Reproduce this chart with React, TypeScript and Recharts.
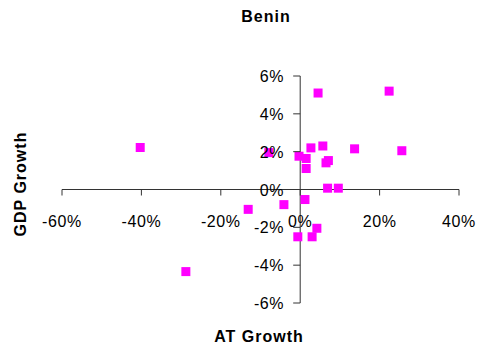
import React from "react";
import { ScatterChart, Scatter, XAxis, YAxis, ReferenceLine } from "recharts";

// values, in percent
const atGrowth = [
  4.5, 22.4, -7.9, 2.7, 5.7, 13.7, 25.6, -0.3, 1.5, 1.5, 6.5,
  7.1, 6.9, 9.6, 1.2, -4.1, -13.1, 4.2, -0.6, 3.0, -40.3, -28.8,
];
const gdpGrowth = [
  5.1, 5.2, 1.95, 2.2, 2.3, 2.15, 2.05, 1.76, 1.64, 1.11, 1.41,
  1.53, 0.07, 0.07, -0.53, -0.8, -1.05, -2.05, -2.5, -2.5, 2.22, -4.34,
];
const xTicks = [-60, -40, -20, 0, 20, 40];
const yTicks = [-6, -4, -2, 0, 2, 4, 6];
const xDomain: [number, number] = [-60, 40];
const yDomain: [number, number] = [-6, 6];

const W = 482;
const H = 352;
// plot area: left 62, right 459, top 76, bottom 303
const xAxisH = 30;
const yAxisW = 30;
const margin = { top: 76, right: 23, bottom: 49 - xAxisH, left: 62 - yAxisW };
const plotW = W - 62 - 23;
const plotH = H - 76 - 49;

// where the axes cross (0,0), excel style
const x0 = 62 + (plotW * (0 - xDomain[0])) / (xDomain[1] - xDomain[0]);
const y0 = 76 + (plotH * (yDomain[1] - 0)) / (yDomain[1] - yDomain[0]);

const font = "'Liberation Sans', Arial, sans-serif";
const axisColor = "#333";
const pointColor = "#FF00FF";

const data = atGrowth.map((x, i) => ({ x, y: gdpGrowth[i] }));

const XTick = ({ x, payload }: any) => (
  <g>
    <line x1={x} x2={x} y1={y0} y2={y0 + 6} stroke={axisColor} />
    <text
      x={x}
      y={y0 + 37}
      textAnchor="middle"
      fontFamily={font}
      fontSize={16}
      letterSpacing={0.6}
      fill="#000"
    >
      {payload.value}%
    </text>
  </g>
);

const YTick = ({ y, payload }: any) => (
  <g>
    <line x1={x0 - 7} x2={x0} y1={y} y2={y} stroke={axisColor} />
    <text
      x={x0 - 16}
      y={y + 6}
      textAnchor="end"
      fontFamily={font}
      fontSize={16}
      letterSpacing={0.6}
      fill="#000"
    >
      {payload.value}%
    </text>
  </g>
);

const Square = ({ cx, cy }: any) => (
  <rect x={cx - 4.5} y={cy - 4.5} width={9} height={9} fill={pointColor} />
);

export default function App() {
  return (
    <div style={{ position: "absolute", left: 0, top: 0, width: W, height: H, background: "#fff" }}>
      <ScatterChart width={W} height={H} margin={margin}>
        <XAxis
          type="number"
          dataKey="x"
          domain={xDomain}
          ticks={xTicks}
          interval={0}
          height={xAxisH}
          axisLine={false}
          tickLine={false}
          tick={<XTick />}
        />
        <YAxis
          type="number"
          dataKey="y"
          domain={yDomain}
          ticks={yTicks}
          interval={0}
          width={yAxisW}
          axisLine={false}
          tickLine={false}
          tick={<YTick />}
        />
        <ReferenceLine y={0} stroke={axisColor} strokeWidth={1} />
        <ReferenceLine x={0} stroke={axisColor} strokeWidth={1} />
        <Scatter data={data} shape={<Square />} isAnimationActive={false} />
      </ScatterChart>
      <svg
        width={W}
        height={H}
        style={{ position: "absolute", left: 0, top: 0, pointerEvents: "none" }}
      >
        <text x={266} y={22} textAnchor="middle" fontFamily={font} fontWeight="bold" fontSize={16} letterSpacing={1}>
          Benin
        </text>
        <text x={259} y={342} textAnchor="middle" fontFamily={font} fontWeight="bold" fontSize={16} letterSpacing={1}>
          AT Growth
        </text>
        <text
          x={26}
          y={184}
          textAnchor="middle"
          fontFamily={font}
          fontWeight="bold"
          fontSize={16}
          letterSpacing={1}
          transform="rotate(-90 26 184)"
        >
          GDP Growth
        </text>
      </svg>
    </div>
  );
}
